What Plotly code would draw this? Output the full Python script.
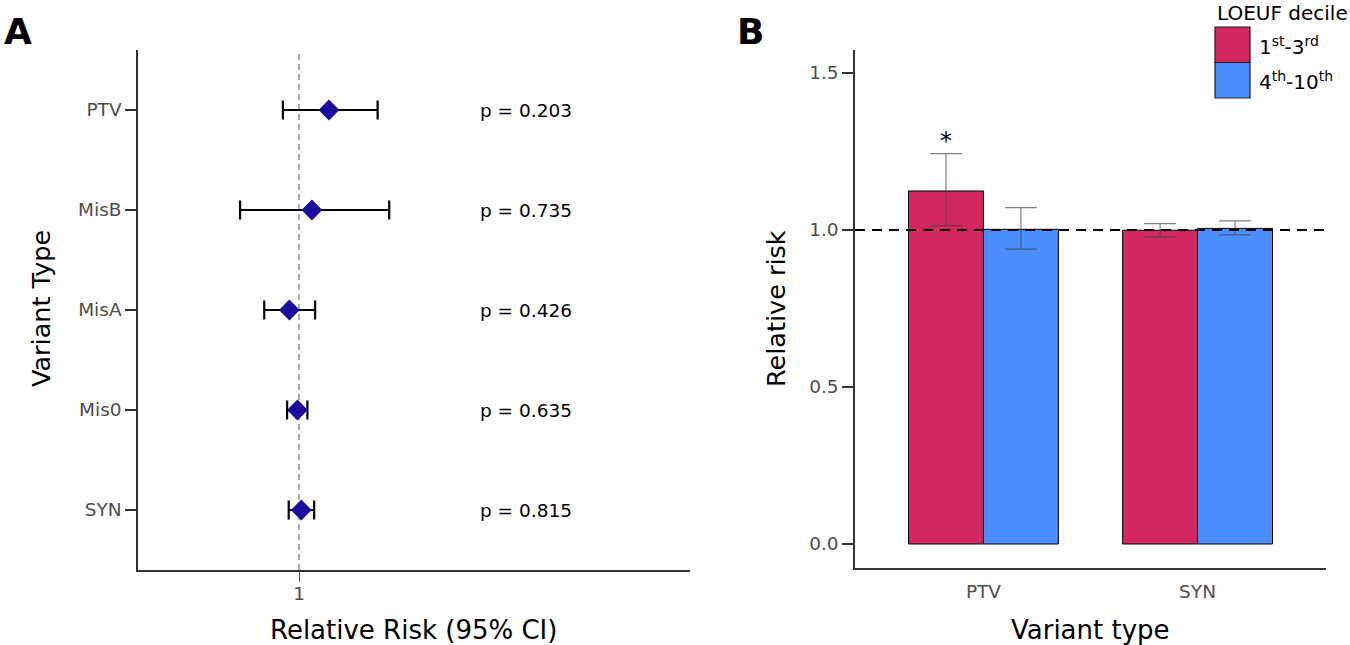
import plotly.graph_objects as go

# ---------------- Panel A data ----------------
variant_types_a = ["PTV", "MisB", "MisA", "Mis0", "SYN"]
rr_a = [1.093, 1.040, 0.970, 0.995, 1.007]
ci_low_a = [0.950, 0.817, 0.892, 0.963, 0.968]
ci_high_a = [1.244, 1.280, 1.050, 1.026, 1.047]
p_values_a = ["0.203", "0.735", "0.426", "0.635", "0.815"]

# ---------------- Panel B data ----------------
variant_types_b = ["PTV", "SYN"]
groups_b = ["1<sup>st</sup>-3<sup>rd</sup>", "4<sup>th</sup>-10<sup>th</sup>"]
rr_b = {
    groups_b[0]: [1.124, 0.999],
    groups_b[1]: [1.002, 1.005],
}
ci_low_b = {
    groups_b[0]: [1.014, 0.978],
    groups_b[1]: [0.939, 0.984],
}
ci_high_b = {
    groups_b[0]: [1.243, 1.020],
    groups_b[1]: [1.071, 1.029],
}
colors_b = ["#D3275F", "#4D8EFF"]
significant_b = [("PTV", 0)]  # (variant type, group index) marked with *

FONT = "DejaVu Sans"
W, H = 1350, 645

fig = go.Figure()

# Panel A: forest plot
fig.add_trace(go.Scatter(
    x=rr_a, y=variant_types_a, mode="markers",
    marker=dict(symbol="diamond", size=16, color="#1B0C9E",
                line=dict(width=0)),
    error_x=dict(type="data", symmetric=False,
                 array=[h - r for h, r in zip(ci_high_a, rr_a)],
                 arrayminus=[r - l for r, l in zip(rr_a, ci_low_a)],
                 color="black", thickness=2.2, width=9.5),
    xaxis="x", yaxis="y", showlegend=False, hoverinfo="skip",
))

# Panel B: grouped bars
bar_w = 0.35
for gi, g in enumerate(groups_b):
    fig.add_trace(go.Bar(
        x=variant_types_b, y=rr_b[g], name=g,
        marker=dict(color=colors_b[gi], line=dict(color="black", width=1)),
        error_y=dict(type="data", symmetric=False,
                     array=[h - r for h, r in zip(ci_high_b[g], rr_b[g])],
                     arrayminus=[r - l for r, l in zip(rr_b[g], ci_low_b[g])],
                     color="rgba(60,60,60,0.65)", thickness=1.2, width=16),
        xaxis="x2", yaxis="y2", showlegend=False, hoverinfo="skip",
    ))

# domains (paper)
xa_dom = [138 / W, 690 / W]
ya_dom = [(H - 570) / H, (H - 50) / H]
xb_dom = [855 / W, 1326 / W]
yb_dom = [(H - 567.7) / H, (H - 50) / H]

axis_common = dict(showline=True, linecolor="#333333", linewidth=1.5,
                   showgrid=False, zeroline=False,
                   tickfont=dict(family=FONT, size=18.5, color="#4D4D4D"),
                   tickcolor="#333333", ticklen=11, tickwidth=1.5)

fig.update_layout(
    width=W, height=H, margin=dict(l=0, r=0, t=0, b=0),
    paper_bgcolor="white", plot_bgcolor="white",
    barmode="group", bargap=1 - 2 * bar_w, bargroupgap=0,
    font=dict(family=FONT),
    xaxis=dict(domain=xa_dom, anchor="y", range=[0.5, 2.214],
               tickvals=[1], ticktext=["1"], ticks="",
               ticklabelstandoff=6,
               minor=dict(tickvals=[1], ticks="outside", ticklen=10,
                          tickcolor="#555555", tickwidth=1.3),
               **axis_common),
    yaxis=dict(domain=ya_dom, anchor="x", type="category",
               categoryorder="array", categoryarray=variant_types_a[::-1],
               range=[-0.6, len(variant_types_a) - 0.4], ticks="outside",
               **axis_common),
    xaxis2=dict(domain=xb_dom, anchor="y2", type="category",
                range=[-0.6, len(variant_types_b) - 0.4], ticks="",
                ticklabelstandoff=6, **axis_common),
    yaxis2=dict(domain=yb_dom, anchor="x2", range=[-0.0755, 1.573],
                tickvals=[0, 0.5, 1.0, 1.5],
                ticktext=["0.0", "0.5", "1.0", "1.5"], ticks="outside",
                **axis_common),
)

shapes = [
    dict(type="line", xref="x", yref="y domain", x0=1, x1=1, y0=0, y1=1,
         line=dict(color="#808080", width=1.3, dash="6px,4px"), layer="below"),
    dict(type="line", xref="x2 domain", yref="y2", x0=0, x1=1, y0=1, y1=1,
         line=dict(color="black", width=2, dash="10px,7px"), layer="above"),
]

annotations = []
# p-values
for vt, p in zip(variant_types_a, p_values_a):
    annotations.append(dict(x=1.556, y=vt, xref="x", yref="y",
                            text=f"p = {p}", showarrow=False, xanchor="left",
                            yanchor="middle",
                            font=dict(family=FONT, size=18.5, color="black")))
# significance stars
for vt, gi in significant_b:
    idx = variant_types_b.index(vt)
    g = groups_b[gi]
    px_per_cat = (xb_dom[1] - xb_dom[0]) * W / (len(variant_types_b) + 0.2)
    annotations.append(dict(x=vt, y=ci_high_b[g][idx] + 0.04, xref="x2", yref="y2",
                            xshift=(gi - 0.5) * bar_w * px_per_cat,
                            text="*", showarrow=False, xanchor="center", yanchor="middle",
                            font=dict(family=FONT, size=24, color="black")))

def paper_text(x, y, text, size, angle=0, xanchor="center"):
    return dict(x=x / W, y=1 - y / H, xref="paper", yref="paper", text=text,
                showarrow=False, xanchor=xanchor, yanchor="middle", textangle=angle,
                font=dict(family=FONT, size=size, color="black"))

# panel letters
annotations.append(paper_text(2, 31, "<b>A</b>", 36, xanchor="left"))
annotations.append(paper_text(735, 31, "<b>B</b>", 36, xanchor="left"))
# axis titles
annotations.append(paper_text(413, 630, "Relative Risk (95% CI)", 26))
annotations.append(paper_text(41, 309, "Variant Type", 25.5, angle=-90))
annotations.append(paper_text(1090, 630, "Variant type", 26))
annotations.append(paper_text(776, 309, "Relative risk", 25.5, angle=-90))

# manual legend
annotations.append(paper_text(1215, 13, "LOEUF decile", 20, xanchor="left"))
box_top = 27
box_h = 35.5
for gi, g in enumerate(groups_b):
    y0 = box_top + gi * box_h
    shapes.append(dict(type="rect", xref="paper", yref="paper",
                       x0=1215 / W, x1=1250 / W,
                       y0=1 - y0 / H, y1=1 - (y0 + box_h) / H,
                       fillcolor=colors_b[gi], line=dict(color="#222222", width=1.2)))
    annotations.append(paper_text(1257, y0 + box_h / 2 + 1, g, 20, xanchor="left"))

fig.update_layout(shapes=shapes, annotations=annotations)

fig.write_html("out.html")
